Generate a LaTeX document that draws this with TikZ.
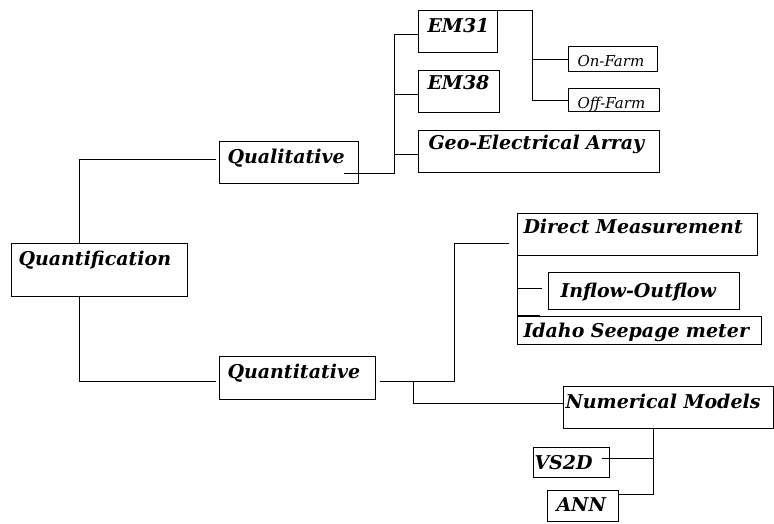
\documentclass[tikz,border=0pt]{standalone}
\usepackage{fontspec}
\setmainfont{DejaVu Serif}
\usepackage{tikz}
\usetikzlibrary{positioning}

\begin{document}
\begin{tikzpicture}[x=1pt, y=-1pt]
  \tikzset{BoxStyle/.style = {shape          = rectangle,
                              draw,
                              line width     = 1pt,
                              text           = black,
                              anchor         = north west,
                              align          = left,
                              inner ysep     = 0pt,
                              font           = \fontsize{19}{21}\selectfont\bfseries\itshape}}
  \tikzset{SmallBoxStyle/.style = {BoxStyle,
                              font           = \fontsize{15}{17}\selectfont\itshape}}
  \tikzset{BoxSize/.style n args = {4}{inner xsep = #1,
                              text width     = #2,
                              text height    = #3,
                              text depth     = #4}}
  \useasboundingbox (0,0) rectangle (774,523);
  \begin{scope}[line width=1pt]
	%%% RACINE %%%
	\node[BoxStyle, BoxSize={7pt}{162pt}{22pt}{31pt}](quant) at (11,243){Quantification};
	\node[BoxStyle, BoxSize={8pt}{123pt}{22pt}{20pt}](qual) at (219,141){Qualitative};
	\node[BoxStyle, BoxSize={8pt}{140pt}{22pt}{21pt}](quantit) at (219,356){Quantitative};
	\draw([xshift=-20pt]quant.north) |- ([yshift=3pt, xshift=-3pt]qual.west);
	\draw([xshift=-20pt]quant.south) |- ([yshift=-3pt, xshift=-3pt]quantit.west);
	%%% QUALITATIVE %%%
	\node[BoxStyle, BoxSize={9pt}{61pt}{22pt}{20pt}](em31) at (418,10){EM31};
	\node[BoxStyle, BoxSize={9pt}{63pt}{19pt}{23pt}](em38) at (418,70){EM38};
	\node[BoxStyle, BoxSize={10pt}{221pt}{19pt}{23pt}](geo) at (418,130){Geo-Electrical~Array};
	\coordinate(qualout) at ([xshift=-15pt, yshift=11pt]qual.south east);
	\coordinate(qtrunk) at (394,0);
	\draw(qualout) -| ([yshift=-3pt]qtrunk |- em31.west) -- ([yshift=-3pt]em31.west);
	\draw([yshift=-3pt]qtrunk |- em38.west) -- ([yshift=-3pt]em38.west);
	\draw([yshift=-3pt]qtrunk |- geo.west) -- ([yshift=-3pt]geo.west);
	%% EM31 %%
	\node[SmallBoxStyle, BoxSize={9pt}{71pt}{20pt}{5pt}](onfarm) at (568,46){On-Farm};
	\node[SmallBoxStyle, BoxSize={9pt}{73pt}{20pt}{3pt}](offfarm) at (568,88){Off-Farm};
	\coordinate(etrunk) at (532,0);
	\draw(em31.north east) -| (etrunk |- offfarm.west) -- (offfarm.west);
	\draw(etrunk |- onfarm.west) -- (onfarm.west);
	%%% QUANTITATIVE %%%
	\node[BoxStyle, BoxSize={6pt}{228pt}{20pt}{22pt}](direct) at (517,213){Direct~Measurement};
	\node[BoxStyle, BoxSize={12pt}{167pt}{25pt}{12pt}](inflow) at (548,272){Inflow-Outflow};
	\node[BoxStyle, BoxSize={6pt}{232pt}{21pt}{7pt}](idaho) at (517,316){Idaho~Seepage~meter};
	\node[BoxStyle, BoxSize={2pt}{206pt}{22pt}{20pt}](nummod) at (563,386){Numerical~Models};
	\coordinate(ntrunk) at (454,0);
	\coordinate(mtrunk) at (413,0);
	\draw([xshift=4pt, yshift=-3pt]quantit.east) -| ([yshift=-9pt]ntrunk |- direct.west) -- ([xshift=-8pt, yshift=-9pt]direct.west);
	\draw([yshift=-3pt]mtrunk |- quantit.east) |- ([yshift=4pt]nummod.west);
	%% DIRECT %%
	\draw(direct.south west) -- (idaho.north west);
	\draw([yshift=3pt]direct.south west |- inflow.west) -- ([xshift=-6pt, yshift=3pt]inflow.west);
	\draw[line width=2pt]([xshift=1pt]idaho.north west) -- ([xshift=23pt]idaho.north west);
	%% NUMERIQUE %%
	\node[BoxStyle, BoxSize={1pt}{74pt}{22pt}{8pt}](vs2d) at (533,447){VS2D};
	\node[BoxStyle, BoxSize={9pt}{53pt}{21pt}{10pt}](ann) at (547,490){ANN};
	\coordinate(vtrunk) at (653,0);
	\draw([xshift=-15pt]nummod.south) |- ([yshift=12pt]ann.east);
	\draw([yshift=4pt]vtrunk |- vs2d.east) -- ([xshift=-8pt, yshift=4pt]vs2d.east);
  \end{scope}
\end{tikzpicture}
\end{document}
